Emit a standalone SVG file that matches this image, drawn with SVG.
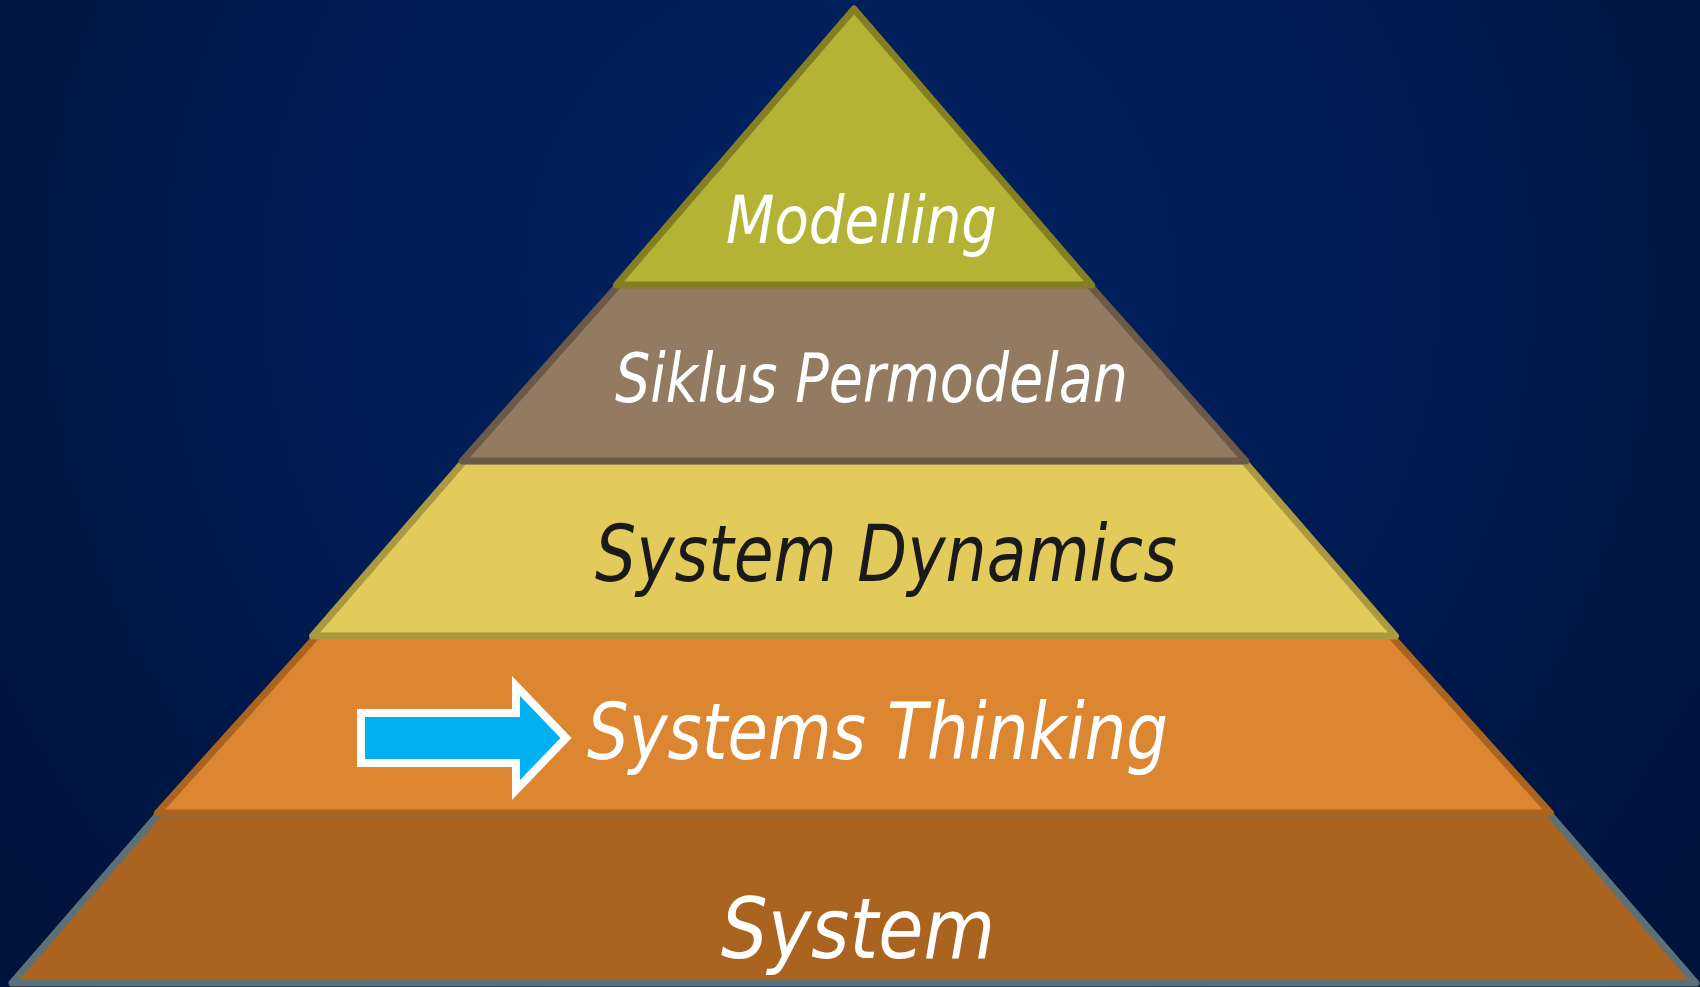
<svg xmlns="http://www.w3.org/2000/svg" width="1700" height="987" viewBox="0 0 1700 987">
  <defs>
    <radialGradient id="bg" cx="850" cy="280" r="1050" gradientUnits="userSpaceOnUse">
      <stop offset="0" stop-color="#012262"/>
      <stop offset="0.55" stop-color="#001b52"/>
      <stop offset="1" stop-color="#00133a"/>
    </radialGradient>
  </defs>
  <style>
    .layer { stroke-width: 7; stroke-linejoin: round; }
    .edge { fill: none; stroke-width: 7; stroke-linejoin: round; }
    .lbl { font-family: "DejaVu Sans", "Noto Sans", sans-serif; font-style: italic; fill: #ffffff; }
  </style>
  <rect x="0" y="0" width="1700" height="987" fill="url(#bg)"/>

  <g id="layer-system">
    <polygon class="layer" points="159.4,813 1548.6,813 1696,983 12,983" fill="#aa641f" stroke="#5d7077"/>
    <text class="lbl" x="721" y="958" font-size="84" textLength="274" lengthAdjust="spacingAndGlyphs">System</text>
  </g>

  <g id="layer-systems-thinking">
    <polygon points="466,470 1242,470 1550.6,813 157.4,813" fill="#dc8632"/>
    <path class="edge" d="M466,470 L157.4,813 L1550.6,813 L1242,470" stroke="#aa6420"/>
    <text class="lbl" x="587" y="759" font-size="78" textLength="581" lengthAdjust="spacingAndGlyphs">Systems Thinking</text>
  </g>

  <g id="layer-system-dynamics">
    <polygon class="layer" points="464.2,461 1243.8,461 1395.5,636 312.5,636" fill="#e3cb5b" stroke="#aa9940"/>
    <text class="lbl" x="595" y="581" font-size="78" textLength="582" lengthAdjust="spacingAndGlyphs" style="fill:#1a1a1a">System Dynamics</text>
  </g>

  <g id="layer-siklus-permodelan">
    <polygon points="645,255 1063,255 1245.8,461 462.2,461" fill="#927b60"/>
    <path class="edge" d="M645,255 L462.2,461 L1245.8,461 L1063,255" stroke="#6b5a47"/>
    <text class="lbl" x="615" y="402" font-size="68" textLength="513" lengthAdjust="spacingAndGlyphs">Siklus Permodelan</text>
  </g>

  <g id="layer-modelling">
    <polygon class="layer" points="854,9 1091.6,285 616.4,285" fill="#b5b336" stroke="#847f20"/>
    <text class="lbl" x="726" y="243" font-size="65" textLength="271" lengthAdjust="spacingAndGlyphs">Modelling</text>
  </g>

  <g id="connectors">
    <polygon points="361,713 516,713 516,686 566,738 516,790 516,763 361,763" fill="#00b0f0" stroke="#ffffff" stroke-width="8" stroke-linejoin="miter"/>
  </g>
</svg>
